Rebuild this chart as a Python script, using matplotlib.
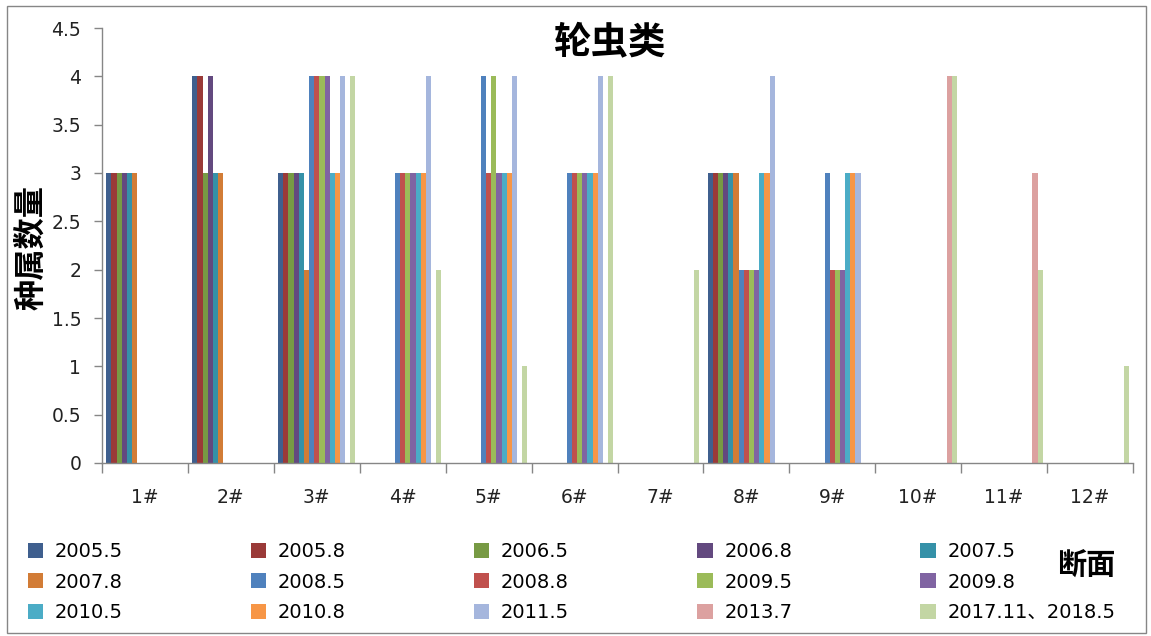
import numpy as np
import matplotlib
matplotlib.use("Agg")
import matplotlib.pyplot as plt
from matplotlib.patches import Rectangle

plt.rcParams['font.family'] = ['DejaVu Sans', 'Noto Sans CJK SC']

# sampling sections and survey dates
sections = ["1#", "2#", "3#", "4#", "5#", "6#", "7#", "8#", "9#", "10#", "11#", "12#"]
surveys = ["2005.5", "2005.8", "2006.5", "2006.8", "2007.5",
           "2007.8", "2008.5", "2008.8", "2009.5", "2009.8",
           "2010.5", "2010.8", "2011.5", "2013.7", "2017.11、2018.5"]

# genus counts per survey, one value per section
s2005_5 = [3, 4, 3, 0, 0, 0, 0, 3, 0, 0, 0, 0]
s2005_8 = [3, 4, 3, 0, 0, 0, 0, 3, 0, 0, 0, 0]
s2006_5 = [3, 3, 3, 0, 0, 0, 0, 3, 0, 0, 0, 0]
s2006_8 = [3, 4, 3, 0, 0, 0, 0, 3, 0, 0, 0, 0]
s2007_5 = [3, 3, 3, 0, 0, 0, 0, 3, 0, 0, 0, 0]
s2007_8 = [3, 3, 2, 0, 0, 0, 0, 3, 0, 0, 0, 0]
s2008_5 = [0, 0, 4, 3, 4, 3, 0, 2, 3, 0, 0, 0]
s2008_8 = [0, 0, 4, 3, 3, 3, 0, 2, 2, 0, 0, 0]
s2009_5 = [0, 0, 4, 3, 4, 3, 0, 2, 2, 0, 0, 0]
s2009_8 = [0, 0, 4, 3, 3, 3, 0, 2, 2, 0, 0, 0]
s2010_5 = [0, 0, 3, 3, 3, 3, 0, 3, 3, 0, 0, 0]
s2010_8 = [0, 0, 3, 3, 3, 3, 0, 3, 3, 0, 0, 0]
s2011_5 = [0, 0, 4, 4, 4, 4, 0, 4, 3, 0, 0, 0]
s2013_7 = [0, 0, 0, 0, 0, 0, 0, 0, 0, 4, 3, 0]
s2017_18 = [0, 0, 4, 2, 1, 4, 2, 0, 0, 4, 2, 1]

series = [s2005_5, s2005_8, s2006_5, s2006_8, s2007_5,
          s2007_8, s2008_5, s2008_8, s2009_5, s2009_8,
          s2010_5, s2010_8, s2011_5, s2013_7, s2017_18]

colors = ["#3F5F8E", "#9A3A38", "#779A44", "#63497F", "#3591A8",
          "#D27C36", "#4F81BD", "#C0504D", "#9BBB59", "#8064A2",
          "#4BACC6", "#F79646", "#A5B6DD", "#DCA1A0", "#C3D6A4"]

fig = plt.figure(figsize=(11.51, 6.36), dpi=100)
ax = fig.add_axes([102 / 1151, 1 - 463 / 636, 1031 / 1151, 435 / 636])

x = np.arange(len(sections))
w = 0.06
n = len(series)
handles = []
for k, (vals, c) in enumerate(zip(series, colors)):
    b = ax.bar(x + (k - (n - 1) / 2) * w, vals, width=w, color=c,
               linewidth=0, label=surveys[k])
    handles.append(b)

ax.set_xlim(-0.5, len(sections) - 0.5)
ax.set_ylim(0, 4.5)
ax.set_yticks(np.arange(0, 4.51, 0.5))
ax.set_yticklabels(["0", "0.5", "1", "1.5", "2", "2.5", "3", "3.5", "4", "4.5"])
ax.set_xticks(x)
ax.set_xticklabels(sections)
ax.set_xticks(np.arange(-0.5, len(sections)), minor=True)

gray = "#868686"
for side in ["top", "right"]:
    ax.spines[side].set_visible(False)
for side in ["left", "bottom"]:
    ax.spines[side].set_color(gray)
    ax.spines[side].set_linewidth(1.0)

ax.tick_params(axis="y", colors=gray, labelcolor="#222222", length=6,
               width=1, pad=9, labelsize=13.5)
ax.tick_params(axis="x", which="major", length=0, pad=18,
               labelcolor="#222222", labelsize=13.5)
ax.tick_params(axis="x", which="minor", length=7, width=1, colors=gray)

fig.text(610 / 1151, 1 - 42 / 636, "轮虫类", ha="center", va="center",
         fontsize=27, fontweight="bold", family=["Noto Sans CJK SC"])
fig.text(31 / 1151, 1 - 247 / 636, "种属数量", ha="center", va="center",
         rotation=90, fontsize=22.5, fontweight="bold",
         family=["Noto Sans CJK SC"])
fig.text(1086 / 1151, 1 - 566 / 636, "断面", ha="center", va="center",
         fontsize=21, fontweight="bold", family=["Noto Sans CJK SC"])

# row-major legend order across five columns
order = [r * 5 + c for c in range(5) for r in range(3)]
fig.legend([handles[i] for i in order], [surveys[i] for i in order],
           ncol=5, loc="lower left", mode="expand",
           bbox_to_anchor=(20 / 1151, 1 - 630 / 636, 1103 / 1151, 92 / 636),
           frameon=False, handlelength=0.8, handleheight=0.8,
           handletextpad=0.6, labelspacing=0.6, borderaxespad=0,
           prop={"family": ["DejaVu Sans", "Noto Sans CJK SC"], "size": 14})

# thin border round the chart area
fig.patches.append(Rectangle((7 / 1151, 1 - 633 / 636), 1139 / 1151, 627 / 636,
                             transform=fig.transFigure, fill=False,
                             edgecolor=gray, linewidth=1.0))

fig.savefig("out.png", dpi=100)
